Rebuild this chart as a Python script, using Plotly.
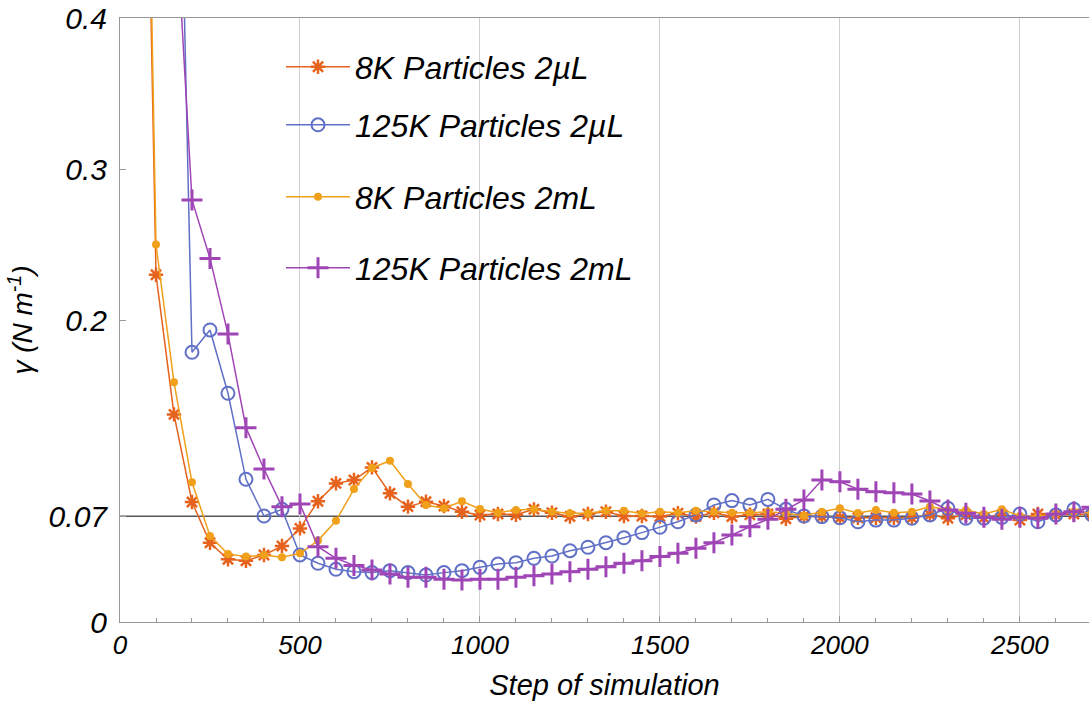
import plotly.graph_objects as go

steps_8k = list(range(50, 2701, 50))
steps_125k = list(range(150, 2701, 50))

gamma_8k_2uL = [0.85, 0.230, 0.1375, 0.0795, 0.0525, 0.0415, 0.0406, 0.0444, 0.0503, 0.062,
                0.080, 0.0918, 0.094, 0.1024, 0.0852, 0.0764, 0.0797, 0.0768, 0.073, 0.0709,
                0.0715, 0.071, 0.0746, 0.0724, 0.0698, 0.0715, 0.073, 0.0702, 0.0702, 0.0698,
                0.072, 0.0698, 0.0724, 0.0698, 0.071, 0.0715, 0.0684, 0.0698, 0.0698, 0.069,
                0.069, 0.069, 0.069, 0.069, 0.071, 0.0687, 0.071, 0.069, 0.071, 0.0675,
                0.0715, 0.071, 0.0715, 0.071]

gamma_8k_2mL = [0.9, 0.250, 0.1587, 0.0925, 0.057, 0.045, 0.0433, 0.0444, 0.0429, 0.0455,
                0.0539, 0.067, 0.088, 0.102, 0.1068, 0.0914, 0.0775, 0.0753, 0.080, 0.0748,
                0.0724, 0.0742, 0.0746, 0.073, 0.072, 0.072, 0.0737, 0.0737, 0.0718, 0.073,
                0.0724, 0.0737, 0.073, 0.0724, 0.0724, 0.073, 0.072, 0.0704, 0.073, 0.0753,
                0.0722, 0.0742, 0.0724, 0.073, 0.0764, 0.0742, 0.0742, 0.0715, 0.0746, 0.0702,
                0.0698, 0.0715, 0.073, 0.072]

gamma_125k_2uL = [0.71, 0.1786, 0.1934, 0.1515, 0.0945, 0.0702, 0.0746, 0.0444, 0.0389, 0.0349,
                  0.0333, 0.0327, 0.034, 0.0327, 0.0311, 0.0327, 0.034, 0.0362, 0.0384, 0.0393,
                  0.0422, 0.0437, 0.0472, 0.0495, 0.0525, 0.0558, 0.0592, 0.0627, 0.0664, 0.0709,
                  0.0775, 0.0804, 0.0775, 0.0812, 0.0746, 0.0702, 0.0698, 0.069, 0.0664, 0.0675,
                  0.0675, 0.0687, 0.0709, 0.0753, 0.0687, 0.0687, 0.0693, 0.0715, 0.0664, 0.0709,
                  0.0746, 0.071]

gamma_125k_2mL = [0.49, 0.2795, 0.2408, 0.1907, 0.1287, 0.1013, 0.0764, 0.0781, 0.0499, 0.0422,
                  0.0375, 0.0344, 0.0318, 0.0296, 0.0296, 0.0283, 0.0278, 0.0283, 0.0283, 0.0296,
                  0.0307, 0.0318, 0.0333, 0.0349, 0.0366, 0.0389, 0.0406, 0.0433, 0.0455, 0.0488,
                  0.0525, 0.0576, 0.0631, 0.068, 0.0746, 0.0808, 0.094, 0.0929, 0.0879, 0.0863,
                  0.0856, 0.0848, 0.0801, 0.0742, 0.072, 0.0693, 0.068, 0.0693, 0.0687, 0.0715,
                  0.073, 0.076]

reference_gamma = 0.07
x_ticks = [0, 500, 1000, 1500, 2000, 2500]
y_ticks = [0, 0.07, 0.2, 0.3, 0.4]
y_tick_text = ["0", "0.07", "0.2", "0.3", "0.4"]

FONT = "Liberation Sans"
C_STAR = "#E5631D"
C_CIRC = "#6070C6"
C_DOT = "#F0A01A"
C_PLUS = "#A045B5"

fig = go.Figure()

fig.add_trace(go.Scatter(
    x=steps_8k, y=gamma_8k_2uL, mode="lines+markers", name="8K Particles 2µL",
    line=dict(color=C_STAR, width=1.5),
    marker=dict(symbol="asterisk-open", size=12, line=dict(color=C_STAR, width=2.5)),
    legend="legend"))
fig.add_trace(go.Scatter(
    x=steps_125k, y=gamma_125k_2uL, mode="lines+markers", name="125K Particles 2µL",
    line=dict(color=C_CIRC, width=1.5),
    marker=dict(symbol="circle-open", size=13, line=dict(color=C_CIRC, width=2)),
    legend="legend2"))
fig.add_trace(go.Scatter(
    x=steps_8k, y=gamma_8k_2mL, mode="lines+markers", name="8K Particles 2mL",
    line=dict(color=C_DOT, width=1.5),
    marker=dict(symbol="circle", size=8, color=C_DOT),
    legend="legend3"))
fig.add_trace(go.Scatter(
    x=steps_125k, y=gamma_125k_2mL, mode="lines+markers", name="125K Particles 2mL",
    line=dict(color=C_PLUS, width=1.5),
    marker=dict(symbol="cross-thin-open", size=15, line=dict(color=C_PLUS, width=3)),
    legend="legend4"))

fig.add_hline(y=reference_gamma, line=dict(color="#555555", width=1.5), layer="below")

PLOT_L, PLOT_T, PLOT_W, PLOT_H = 120, 18, 969, 604

def leg(yc, x_left=281):
    return dict(x=(x_left - PLOT_L) / PLOT_W, y=(PLOT_T + PLOT_H - yc) / PLOT_H,
                xanchor="left", yanchor="middle",
                bgcolor="rgba(0,0,0,0)", borderwidth=0, itemwidth=64,
                font=dict(family=FONT, size=32, color="black", style="italic"))

fig.update_layout(
    width=1089, height=704, autosize=False,
    margin=dict(l=PLOT_L, r=0, t=PLOT_T, b=704 - PLOT_T - PLOT_H),
    plot_bgcolor="white", paper_bgcolor="white",
    showlegend=True,
    legend=leg(67), legend2=leg(125), legend3=leg(197), legend4=leg(268),
    font=dict(family=FONT, color="black"),
)

fig.update_xaxes(
    range=[0, 2692], tickvals=x_ticks, showgrid=True, gridcolor="#d0d0d0", gridwidth=1,
    showline=True, linecolor="#999999", linewidth=1, mirror=True,
    ticks="inside", ticklen=6, tickcolor="#999999",
    minor=dict(dtick=100, ticks="inside", ticklen=4, tickcolor="#999999", showgrid=False),
    tickfont=dict(family=FONT, size=26, style="italic", color="black"),
    title=dict(text="Step of simulation", font=dict(family=FONT, size=29, style="italic", color="black"),
               standoff=15),
    zeroline=False, automargin=False, ticklabeloverflow="allow",
)
fig.update_yaxes(
    range=[0, 0.4], tickvals=y_ticks, ticktext=y_tick_text, showgrid=False,
    showline=True, linecolor="#999999", linewidth=1,
    ticks="inside", ticklen=6, tickcolor="#999999",
    tickfont=dict(family=FONT, size=30, style="italic", color="black"),
    ticklabelstandoff=6,
    title=dict(text="γ (N m<sup>-1</sup>)", font=dict(family=FONT, size=28, style="italic", color="black"),
               standoff=7),
    zeroline=False, automargin=False, ticklabeloverflow="allow",
)

fig.write_html("out.html", config={"displayModeBar": False},
               post_script="document.body.style.margin='0';document.body.style.padding='0';")
